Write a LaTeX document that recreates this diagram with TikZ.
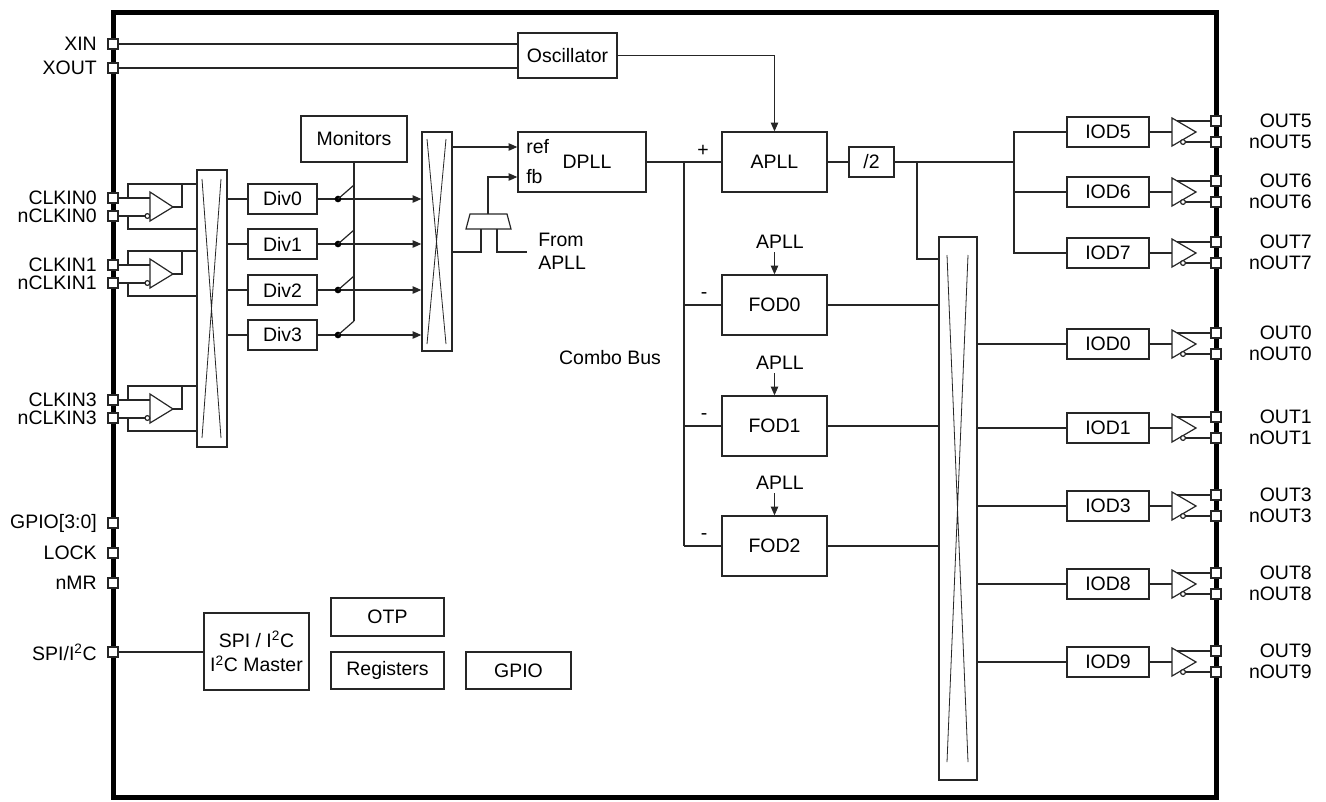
\documentclass[tikz,border=0pt]{standalone}
\usepackage{fontspec}
\setmainfont{Liberation Sans}
\usetikzlibrary{arrows.meta}
\begin{document}
\begin{tikzpicture}[x=0.75pt,y=-0.75pt,
  every node/.style={font=\fontsize{14.6}{18.5}\selectfont, inner sep=0pt},
  line/.style={draw=black!85, line width=0.9pt},
  xline/.style={draw=black!85, line width=0.6pt},
  blk/.style={draw=black!85, line width=1pt, rectangle, fill=white},
  pinsq/.style={draw=black!85, line width=0.8pt, fill=white, minimum size=7.5pt},
  arr/.style={line, -{Triangle[length=6.5pt,width=5.5pt]}},
  lbl/.style={anchor=east},
  jdot/.style={circle, fill=black, minimum size=5pt}
]
\useasboundingbox (0,0) rectangle (1326,801);
% chip outline
\draw[draw=black, line width=3.75pt] (113,12) rectangle (1216,797);

% ---------- crossbars ----------
\node[blk, minimum width=22.5pt, minimum height=207.75pt] (xb1) at (212,308.5) {};
\draw[xline] (202,179) -- (221,438) (221,179) -- (202,438);
\node[blk, minimum width=22.5pt, minimum height=164.25pt] (xb2) at (437,241.5) {};
\draw[xline] (427,139) -- (446,344) (446,139) -- (427,344);
\node[blk, minimum width=28.5pt, minimum height=407.25pt] (xb3) at (958,508.5) {};
\draw[xline] (947,255) -- (968,762) (968,255) -- (947,762);

% ---------- left pins ----------
\foreach \n/\y/\t in {pXIN/44/XIN, pXOUT/68/XOUT, pGPIO/523/{GPIO[3:0]}, pLOCK/553/LOCK, pNMR/583/nMR}{
  \node[pinsq] (\n) at (113,\y) {};
  \node[lbl] at (97,\y) {\t};
}
\node[pinsq] (pSPI) at (113,652) {};
\node[lbl] at (97,652) {SPI/I\textsuperscript{2}C};

% ---------- oscillator ----------
\node[blk, minimum width=74.25pt, minimum height=33.75pt] (osc) at (567.5,55.5) {Oscillator};
\draw[line] (pXIN.east) -- (osc.west |- pXIN);
\draw[line] (pXOUT.east) -- (osc.west |- pXOUT);

% ---------- input buffers ----------
\foreach \c/\k in {207/0,274/1,409/3}{
  \node[pinsq] (pc\k) at (113,\c-9) {};
  \node[pinsq] (pn\k) at (113,\c+9) {};
  \node[lbl] at (97,\c-9) {CLKIN\k};
  \node[lbl] at (97,\c+9) {nCLKIN\k};
  \draw[line] (150,\c-15) -- (150,\c+14) -- (173,\c) -- cycle;
  \draw[line] (pc\k.east) -- (150,\c-9);
  \draw[line] (128,\c-9) |- (xb1.west |- 0,\c-23);
  \draw[line] (173,\c) -- (182,\c) -- (182,\c-23);
  \draw[line] (pn\k.east) -- (145,\c+9);
  \draw[line, fill=white] (147.4,\c+9) circle (1.8pt);
  \draw[line] (128,\c+9) |- (xb1.west |- 0,\c+22);
}

% ---------- monitors & dividers ----------
\node[blk, minimum width=79.5pt, minimum height=34.5pt] (mon) at (354,139) {Monitors};
\draw[line] (mon.south) -- (354,321);
\foreach \y/\k in {199/0,244/1,290/2,335/3}{
  \node[blk, minimum width=51.75pt, minimum height=22.5pt] (div\k) at (282.5,\y) {Div\k};
  \draw[line] (xb1.east |- div\k) -- (div\k.west);
  \draw[arr] (div\k.east) -- (xb2.west |- div\k);
  \node[jdot] at (338,\y) {};
  \draw[line] (338,\y) -- (354,\y-14);
}

% ---------- DPLL ----------
\node[blk, minimum width=96pt, minimum height=45pt] (dpll) at (582,162) {};
\node at (587,162) {DPLL};
\node[anchor=west] at (526,147) {ref};
\node[anchor=west] at (526,177) {fb};
\draw[arr] (xb2.east |- 0,147) -- (dpll.west |- 0,147);
\draw[line] (470,214) -- (507,214) -- (511,229) -- (466,229) -- cycle;
\coordinate (muxo) at (488,214);
\draw[arr] (muxo) |- (dpll.west |- 0,177);
\draw[line] (xb2.east |- 0,252) -- (481,252) -- (481,229);
\draw[line] (497,229) -- (497,252) -- (527,252);
\node[anchor=west] at (538,240) {From};
\node[anchor=west] at (538,263) {APLL};

% ---------- APLL ----------
\node[blk, minimum width=78.75pt, minimum height=45pt] (apll) at (774.5,162) {APLL};
\draw[arr] (osc.east) -| (apll.north);
\draw[line] (dpll.east) -- (apll.west);
\node at (703,151) {+};
\node[blk, minimum width=33.75pt, minimum height=22.5pt] (half) at (871.5,162) {/2};
\draw[line] (apll.east) -- (half.west);
\draw[line] (half.east) -- (1014,162);
\draw[line] (917,162) |- (xb3.west |- 0,259);

% ---------- combo bus & FODs ----------
\draw[line] (684,162) -- (684,546);
\node at (610,358) {Combo Bus};
\foreach \y/\k in {305/0,426/1,546/2}{
  \node[blk, minimum width=78.75pt, minimum height=45pt] (fod\k) at (774.5,\y) {FOD\k};
  \draw[line] (684,\y) -- (fod\k.west);
  \node at (704,\y-9) {-};
  \node at (780,\y-63) {APLL};
  \draw[arr] (774.5,\y-53) -- (fod\k.north);
  \draw[line] (fod\k.east) -- (xb3.west |- fod\k);
}

% ---------- output dividers & buffers ----------
\foreach \c/\k in {132/5,192/6,253/7,344/0,428/1,506/3,584/8,662/9}{
  \node[blk, minimum width=61.5pt, minimum height=22.5pt] (iod\k) at (1108,\c) {IOD\k};
  \draw[line] (1172,\c-14) -- (1172,\c+14) -- (1196,\c) -- cycle;
  \draw[line] (iod\k.east) -- (1172,\c);
  \node[pinsq] (po\k) at (1216,\c-11) {};
  \node[pinsq] (pm\k) at (1216,\c+10) {};
  \draw[line] (1177,\c-11) -- (po\k.west);
  \draw[line, fill=white] (1183,\c+10) circle (1.8pt);
  \draw[line] (1185.4,\c+10) -- (pm\k.west);
  \node[lbl] at (1312,\c-11) {OUT\k};
  \node[lbl] at (1312,\c+10) {nOUT\k};
}
\draw[line] (iod5.west) -- (1014,132) -- (1014,253) -- (iod7.west);
\draw[line] (1014,192) -- (iod6.west);
\foreach \k in {0,1,3,8,9}{
  \draw[line] (xb3.east |- iod\k) -- (iod\k.west);
}

% ---------- control blocks ----------
\node[blk, minimum width=78.75pt, minimum height=57.75pt, align=center] (spi) at (256.5,651.5) {SPI / I\textsuperscript{2}C\\I\textsuperscript{2}C Master};
\draw[line] (pSPI.east) -- (spi.west |- pSPI);
\node[blk, minimum width=84.75pt, minimum height=28.5pt] (otp) at (387.5,617) {OTP};
\node[blk, minimum width=84.75pt, minimum height=27.75pt] (reg) at (387.5,670.5) {Registers};
\node[blk, minimum width=78.75pt, minimum height=27.75pt] (gpio) at (518.5,670.5) {GPIO};
\end{tikzpicture}
\end{document}
